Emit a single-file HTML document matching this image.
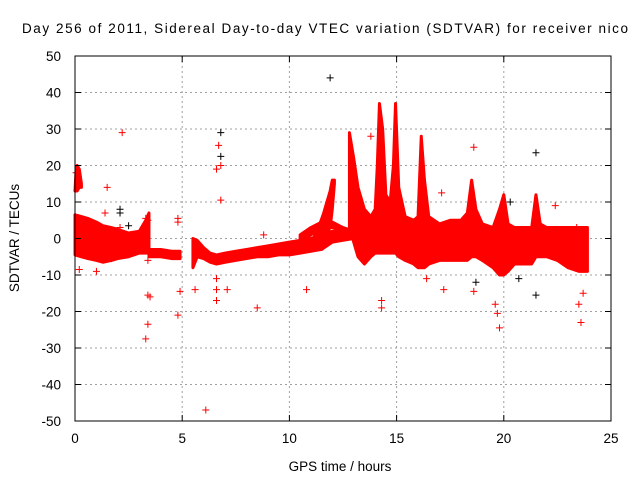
<!DOCTYPE html>
<html><head><meta charset="utf-8"><style>
body{margin:0;background:#fff}
svg{display:block;font-family:"Liberation Sans",Arial,sans-serif}
</style></head><body>
<svg id="chart" width="640" height="480">
<text x="325" y="33" font-size="13.5" text-anchor="middle" textLength="606">Day 256 of 2011, Sidereal Day-to-day VTEC variation (SDTVAR) for receiver nico</text>
<text x="0" y="0" font-size="13.5" text-anchor="middle" transform="translate(19,238) rotate(-90)">SDTVAR / TECUs</text>
<text x="340" y="471" font-size="13.5" text-anchor="middle">GPS time / hours</text>
<g id="grid"></g><g id="marks"></g><g id="axes"></g>
</svg>
<script>
const xTicks=[0,5,10,15,20,25];
const yTicks=[50,40,30,20,10,0,-10,-20,-30,-40,-50];
// band envelope data (null separates segments)
const bandT=[0,0.05,0.1,0.2,0.3,null,
 0,0.3,0.6,1.0,1.3,1.7,2.0,2.5,3.0,3.3,3.45,null,
 3.45,4,4.5,4.9,null,
 5.5,5.7,6.0,6.3,6.6,7.0,7.5,8,8.5,9,9.5,10,10.5,11,11.5,12,12.5,13,null,
 11.0,11.3,11.6,11.9,12.0,12.1,null,
 10.5,11,11.5,12,12.5,13,null,
 12.8,13.0,13.2,13.5,13.8,14.0,14.1,14.2,14.35,14.5,14.7,14.85,14.95,15.1,15.4,15.8,16.0,16.15,16.3,16.5,17,17.5,18,18.3,18.5,18.7,19,19.5,19.8,20.0,20.2,20.5,21,21.3,21.5,21.7,22,22.5,23,23.5,23.9];
const bandHi=[13,19,20,19,15,null,
 6.5,6,5.5,4.5,3.5,3,2.5,1.5,2,5,7,null,
 -3,-3,-3.5,-3.5,null,
 0,-0.5,-2.5,-4,-4.5,-4,-3.5,-3,-2.5,-2,-1.5,-1,-0.5,0,1,2,2,2,null,
 -1,2,7,13,16,16,null,
 1,3,4.5,4.5,3,2,null,
 29,22,14,8,6,8,20,37,30,12,10,20,37,14,6,5,6,28,16,6,4,5,5,7,16,8,4,3,8,12,4,3,3,3,12,4,3,3,3,3,3];
const bandLo=[13,13,13,14,14,null,
 -4.5,-5,-5.5,-6,-6.5,-6,-5.5,-5,-4,-4,-4,null,
 -5,-5,-5.5,-5.5,null,
 -8,-5,-5.5,-6.5,-7,-6.5,-6,-5.5,-5,-5,-4.5,-4.5,-4,-3.5,-3,-1,-0.5,0,null,
 -3,-2,0,3,8,15,null,
 -1,1,3,3,2,1,null,
 3,-1,-5,-7,-5,-4,-4,-4,-4,-4,-4,-4,-4,-5,-6,-7,-8,-8,-8,-7,-6,-6,-6,-6,-5,-5,-6,-8,-10,-10,-9,-7,-7,-7,-5,-5,-5,-6,-8,-9,-9];
const outT=[2.2,11.9,6.8,6.7,6.8,6.6,6.8,6.8,1.5,1.4,2.1,2.1,2.1,2.5,3.3,3.4,3.4,3.4,3.5,3.4,3.3,4.8,4.8,4.9,4.8,5.6,6.1,6.6,6.6,6.6,7.1,8.5,10.8,8.8,18.6,18.7,18.6,19.6,19.8,19.7,21.5,21.5,23.6,23.7,23.5,17.1,17.2,16.4,13.8,14.3,14.3,20.3,20.7,22.4,23.4,1.0,0.2,1.7,0.05];
const outV=[29,44,29,25.5,22.5,19,20,10.5,14,7,8,7,3,3.5,5.5,5,-6,-15.5,-16,-23.5,-27.5,5.5,4.5,-14.5,-21,-14,-47,-11,-17,-14,-14,-19,-14,1,25,-12,-14.5,-18,-24.5,-20.5,23.5,-15.5,-23,-15,-18,12.5,-14,-11,28,-17,-19,10,-11,9,3,-9,-8.5,-5.5,18];
const outBlack=[0,1,1,0,1,0,0,0,0,0,1,1,0,1,0,0,0,0,0,0,0,0,0,0,0,0,0,0,0,0,0,0,0,0,0,1,0,0,0,0,1,1,0,0,0,0,0,0,0,0,0,1,1,0,0,0,0,0,0];

const X0=75,X1=611,Y0=421,Y1=56;
const xs=h=>X0+(h-0)/(25-0)*(X1-X0);
const ys=v=>Y0-(v+50)/100*(Y0-Y1);
const NS="http://www.w3.org/2000/svg";
function mk(tag,attrs,parent){const e=document.createElementNS(NS,tag);for(const k in attrs)e.setAttribute(k,attrs[k]);parent.appendChild(e);return e;}
const grid=document.getElementById('grid'),marks=document.getElementById('marks'),axes=document.getElementById('axes');
xTicks.forEach(t=>{
 if(t>0&&t<25){const l=mk('line',{x1:xs(t),x2:xs(t),y1:Y1,y2:Y0,stroke:'#a0a0a0','stroke-dasharray':'2,3'},grid);
 
 }
 const tk=mk('path',{d:`M${xs(t)},${Y0}v-6M${xs(t)},${Y1}v6`,stroke:'#000'},axes);
 
 
 const tx=mk('text',{x:xs(t),y:Y0+22,'font-size':'13.5','text-anchor':'middle'},axes);tx.textContent=t;
 
 
});
yTicks.forEach(t=>{
 if(t>-50&&t<50){const l=mk('line',{x1:X0,x2:X1,y1:ys(t),y2:ys(t),stroke:'#a0a0a0','stroke-dasharray':'2,3'},grid);
 
 }
 const tk=mk('path',{d:`M${X0},${ys(t)}h6M${X1},${ys(t)}h-6`,stroke:'#000'},axes);
 
 
 const tx=mk('text',{x:X0-14,y:ys(t)+5,'font-size':'13.5','text-anchor':'end'},axes);tx.textContent=t;
 
 
});
const border=mk('rect',{x:X0,y:Y1,width:X1-X0,height:Y0-Y1,fill:'none',stroke:'#000'},axes);


// bands
let seg=[];
function flush(){if(seg.length<2){seg=[];return;}
 const up=seg.map(i=>`${xs(bandT[i])},${ys(bandHi[i])}`);
 const dn=seg.slice().reverse().map(i=>`${xs(bandT[i])},${ys(bandLo[i])}`);
 const p=mk('polygon',{points:up.concat(dn).join(' '),fill:'#ff0000',stroke:'#ff0000','stroke-width':'3','stroke-linejoin':'round'},marks);
 
 
 seg=[];}
for(let i=0;i<bandT.length;i++){if(bandT[i]===null)flush();else seg.push(i);}
flush();
// outliers
outT.forEach((t,i)=>{const x=xs(t),y=ys(outV[i]);
 const p=mk('path',{d:`M${x-3.5},${y}h7M${x},${y-3.5}v7`,stroke:outBlack[i]?'#000':'#ff0000','stroke-width':'1'},marks);
 
 
});
</script>
</body></html>
